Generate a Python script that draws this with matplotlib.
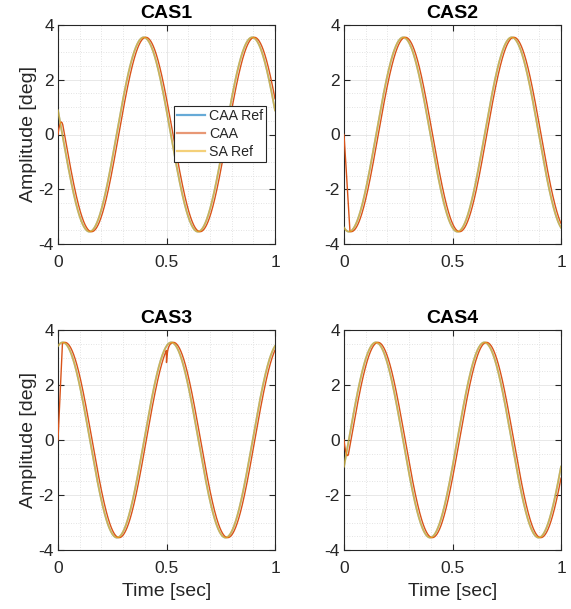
import numpy as np
import matplotlib
matplotlib.use("Agg")
import matplotlib.pyplot as plt
from matplotlib.ticker import MultipleLocator, FuncFormatter

plt.rcParams['font.family'] = ['Liberation Sans', 'DejaVu Sans']

# ---- data ----
panel_titles = ['CAS1', 'CAS2', 'CAS3', 'CAS4']
series_names = ['CAA Ref', 'CAA', 'SA Ref']
amplitude = 3.55          # deg
period = 0.5              # sec
ref_peak_times = [0.395, 0.273, 0.022, 0.147]   # time of a reference peak
caa_lag = [0.010, 0.010, 0.010, 0.010]           # CAA lag behind reference (sec)
caa_start_value = [0.0, 0.0, 0.0, 0.0]           # CAA value at t = 0
caa_ramp_time = [0.022, 0.027, 0.02, 0.02]       # CAA start-up ramp duration
caa_glitch_time = [None, None, 0.5, None]
caa_glitch_depth = [0.0, 0.0, 0.45, 0.0]
time_range = [0.0, 1.0]
n_samples = 2001

x_ticks = [0, 0.5, 1]
y_ticks = [-4, -2, 0, 2, 4]

c_ref = (0.0, 0.447, 0.741)
c_caa = (0.85, 0.325, 0.098)
c_sa = (0.929, 0.694, 0.125)
txt = '#262626'

fig = plt.figure(figsize=(5.71, 6.09), dpi=100)
positions = [
    [58/571, 1-244/609, 217/571, 219/609],
    [344/571, 1-244/609, 217/571, 219/609],
    [58/571, 1-550/609, 217/571, 220/609],
    [344/571, 1-550/609, 217/571, 220/609],
]

t = np.linspace(time_range[0], time_range[1], n_samples)
w = 2*np.pi/period

for i, pos in enumerate(positions):
    ax = fig.add_axes(pos)
    ref = amplitude*np.cos(w*(t - ref_peak_times[i]))
    lagged = amplitude*np.cos(w*(t - ref_peak_times[i] - caa_lag[i]))
    ramp = np.clip(t/caa_ramp_time[i], 0, 1)
    caa = caa_start_value[i]*(1 - ramp) + lagged*ramp
    if caa_glitch_time[i] is not None:
        dt = t - caa_glitch_time[i]
        caa = caa - np.where(dt >= 0, caa_glitch_depth[i]*np.exp(-np.clip(dt, 0, None)/0.004), 0.0)
    ax.plot(t, ref, color=c_ref, lw=1.3, alpha=0.5, label=series_names[0], zorder=3)
    ax.plot(t, caa, color=c_caa, lw=1.0, label=series_names[1], zorder=4)
    ax.plot(t, ref, color=c_sa, lw=1.3, alpha=0.7, label=series_names[2], zorder=5)

    ax.set_xlim(time_range)
    ax.set_ylim(-4, 4)
    ax.set_xticks(x_ticks)
    ax.set_yticks(y_ticks)
    ax.xaxis.set_minor_locator(MultipleLocator(0.1))
    ax.yaxis.set_minor_locator(MultipleLocator(0.5))
    ax.xaxis.set_major_formatter(FuncFormatter(lambda v, p: f'{v:g}'))
    ax.yaxis.set_major_formatter(FuncFormatter(lambda v, p: f'{v:g}'.replace('\u2212', '-')))
    ax.grid(True, which='major', color='#e4e4e4', lw=0.6, ls='-', zorder=0)
    ax.grid(True, which='minor', color='#dadada', lw=0.6, ls=(0, (1, 2)), zorder=0)
    ax.tick_params(which='major', direction='in', length=4, width=0.8, top=True, right=True,
                   labelsize=12.5, colors=txt)
    ax.tick_params(axis='x', which='major', pad=8)
    ax.tick_params(axis='y', which='major', pad=3)
    ax.tick_params(which='minor', length=0, top=True, right=True)
    for s in ax.spines.values():
        s.set_color(txt)
        s.set_linewidth(0.8)
    ax.set_title(panel_titles[i], fontsize=14, fontweight='bold', color='black', pad=5)
    if i in (0, 2):
        ax.set_ylabel('Amplitude [deg]', fontsize=14, color=txt, labelpad=1)
    if i in (2, 3):
        ax.set_xlabel('Time [sec]', fontsize=14, color=txt, labelpad=5)
    if i == 0:
        leg = ax.legend(loc='upper left', bbox_to_anchor=(0.535, 0.63), fontsize=10.2,
                        frameon=True, fancybox=False, borderpad=0.2, labelspacing=0.28,
                        handlelength=2.0, handletextpad=0.25, borderaxespad=0)
        leg.get_frame().set_edgecolor(txt)
        leg.get_frame().set_linewidth(0.8)
        leg.get_frame().set_alpha(1)
        for lh in leg.get_lines():
            lh.set_alpha(0.6)
            lh.set_linewidth(1.6)
        for tx in leg.get_texts():
            tx.set_color(txt)

fig.savefig('out.png', dpi=100)
